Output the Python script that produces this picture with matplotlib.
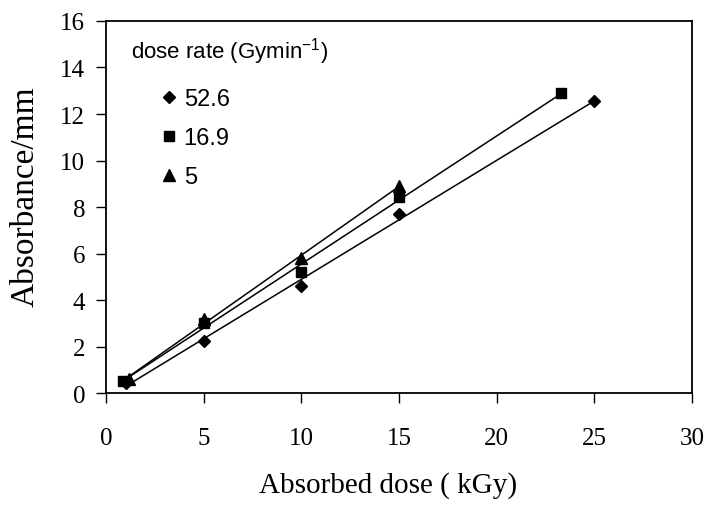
import numpy as np
import matplotlib.pyplot as plt

plt.rcParams["font.family"] = "Liberation Serif"

# dose rate 52.6 Gy/min
x_526 = [1.0, 5.0, 10.0, 15.0, 25.0]
y_526 = [0.45, 2.25, 4.62, 7.69, 12.55]
# dose rate 16.9 Gy/min
x_169 = [0.85, 5.0, 10.0, 15.0, 23.3]
y_169 = [0.52, 3.0, 5.2, 8.44, 12.9]
# dose rate 5 Gy/min
x_5 = [1.2, 5.0, 10.0, 15.0]
y_5 = [0.62, 3.2, 5.82, 8.9]

series = [
    (x_526, y_526, "D", "52.6", 6.5),
    (x_169, y_169, "s", "16.9", 6.5),
    (x_5, y_5, "^", "5", 8),
]

fig, ax = plt.subplots(figsize=(7.07, 5.10), dpi=100)
fig.subplots_adjust(left=0.15, right=0.979, top=0.957, bottom=0.227)

handles = []
for xs, ys, mk, lab, ms in series:
    h, = ax.plot(xs, ys, ls="none", marker=mk, color="black", ms=ms, label=lab)
    handles.append(h)
    # linear trend line over the data range
    k, b = np.polyfit(xs, ys, 1)
    xf = np.array([min(xs), max(xs)])
    ax.plot(xf, k * xf + b, color="black", lw=1.1)

ax.set_xlim(0, 30)
ax.set_ylim(0, 16)
ax.set_xticks(range(0, 31, 5))
ax.set_yticks(range(0, 17, 2))
ax.tick_params(direction="out", length=7, width=1, labelsize=18)
ax.tick_params(axis="x", pad=17)
ax.tick_params(axis="y", pad=8)
for s in ax.spines.values():
    s.set_linewidth(1.3)

ax.set_xlabel("Absorbed dose ( kGy)", fontsize=21)
ax.xaxis.set_label_coords(0.482, -0.21)
ax.set_ylabel("Absorbance/mm", fontsize=24)
ax.yaxis.set_label_coords(-0.112, 0.53)

ax.text(0.043, 0.92, r"dose rate (Gymin$^{\mathregular{-1}}$)", transform=ax.transAxes,
        fontsize=16, family="Liberation Sans", va="center")
leg = ax.legend(handles=handles, loc="upper left", bbox_to_anchor=(0.08, 0.845),
                frameon=False, handlelength=0.6, handletextpad=0.3,
                labelspacing=0.72, borderaxespad=0,
                prop={"family": "Liberation Sans", "size": 17})

fig.savefig("out.png", dpi=100)
